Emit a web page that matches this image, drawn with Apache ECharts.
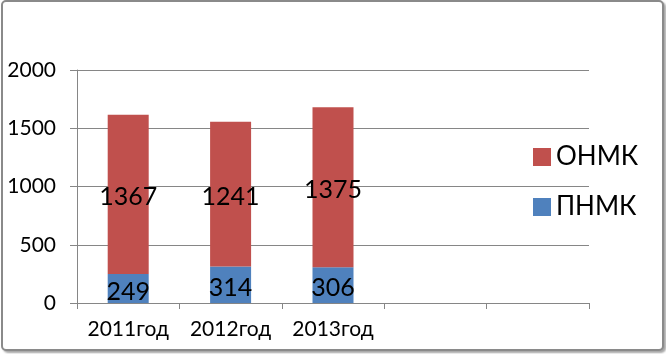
<!DOCTYPE html>
<html>
<head>
<meta charset="utf-8">
<script src="https://cdn.jsdelivr.net/npm/echarts@6/dist/echarts.min.js"></script>
<style>
  html, body { margin: 0; padding: 0; background: #fff; }
  #main {
    position: absolute; left: 1px; top: 0px;
    width: 659px; height: 347px;
    border: 2px solid #8a8a8a; border-radius: 5px;
    box-shadow: 2px 2px 2px rgba(0,0,0,0.35);
    background: #fff;
  }
</style>
</head>
<body>
<div id="main"></div>
<script>
// categories and values
var years = ['2011год', '2012год', '2013год', '', ''];
var pnmk = [249, 314, 306, null, null];
var onmk = [1367, 1241, 1375, null, null];
var yTicks = { min: 0, max: 2000, step: 500 };

var chart = echarts.init(document.getElementById('main'));

var labelStyle = {
    show: true,
    position: 'inside',
    color: '#000',
    fontFamily: 'Lato',
    fontSize: 25,
    offset: [0, 3]
};

var option = {
    animation: false,
    color: ['#4f81bd', '#c0504d'],
    textStyle: { fontFamily: 'Lato' },
    grid: { left: 74, right: 73, top: 68, bottom: 46 },
    legend: {
        data: ['ОНМК', 'ПНМК'],
        orient: 'vertical',
        left: 525,
        top: 137,
        itemWidth: 18,
        itemHeight: 18,
        itemGap: 24,
        icon: 'rect',
        textStyle: { fontSize: 26, color: '#000', fontFamily: 'Lato' }
    },
    xAxis: {
        type: 'category',
        data: years,
        axisLine: { lineStyle: { color: '#868686' } },
        axisTick: { show: true, length: 6, lineStyle: { color: '#868686' } },
        axisLabel: { color: '#000', fontSize: 21, margin: 16, interval: 0 }
    },
    yAxis: {
        type: 'value',
        min: yTicks.min,
        max: yTicks.max,
        interval: yTicks.step,
        axisLine: { show: true, lineStyle: { color: '#868686' } },
        axisTick: { show: true, length: 7, lineStyle: { color: '#868686' } },
        splitLine: { lineStyle: { color: '#868686' } },
        axisLabel: {
            color: '#000', fontSize: 21, margin: 21,
            formatter: function (v) { return String(v); }
        }
    },
    series: [{
        name: 'ПНМК',
        type: 'bar',
        stack: 'all',
        barWidth: 41,
        data: pnmk,
        label: labelStyle
    }, {
        name: 'ОНМК',
        type: 'bar',
        stack: 'all',
        barWidth: 41,
        data: onmk,
        label: labelStyle
    }]
};

chart.setOption(option);
</script>
</body>
</html>
